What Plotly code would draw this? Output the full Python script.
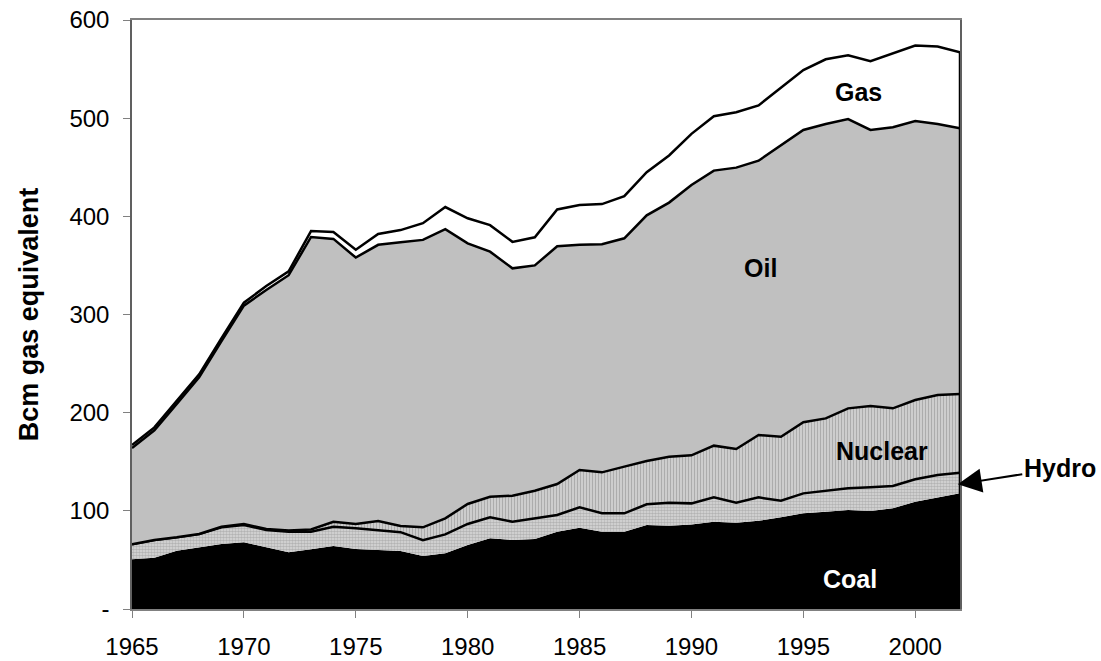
import numpy as np
import plotly.graph_objects as go

years = list(range(1965, 2003))

coal = [50.6, 52.3, 59.4, 62.5, 66.2, 67.9, 62.5, 57.7, 60.8, 64.2,
        61.1, 60.0, 59.2, 54.0, 56.7, 65.2, 72.0, 70.3, 71.3, 78.8,
        82.8, 78.8, 78.8, 85.6, 84.9, 86.0, 88.9, 87.9, 89.9, 93.4,
        97.5, 99.1, 100.8, 99.8, 102.6, 109.3, 113.8, 117.8]
hydro = [15.3, 18.0, 13.6, 13.9, 17.0, 17.7, 18.0, 21.1, 18.0, 19.6,
         21.1, 20.5, 19.1, 16.0, 19.3, 21.4, 21.4, 18.6, 21.1, 17.0,
         20.8, 18.7, 18.7, 21.0, 23.4, 21.6, 24.8, 20.4, 23.8, 16.9,
         20.3, 21.1, 22.1, 24.2, 22.7, 22.8, 22.7, 21.1]
nuclear = [0.0, 0.0, 0.0, 0.0, 0.5, 0.9, 1.0, 1.2, 2.2, 5.1,
           4.4, 9.1, 6.2, 13.2, 16.4, 20.4, 21.0, 26.5, 28.1, 31.5,
           38.0, 41.7, 47.5, 44.2, 46.8, 48.9, 52.7, 54.7, 63.5, 65.2,
           72.4, 74.0, 81.5, 82.8, 79.1, 80.8, 81.5, 80.1]
oil = [98.1, 111.7, 136.0, 159.6, 189.3, 222.5, 243.5, 260.0, 298.0, 288.1,
       271.4, 281.4, 289.0, 292.8, 294.6, 265.5, 249.6, 231.6, 229.5, 242.2,
       229.4, 232.3, 232.6, 250.2, 258.9, 275.5, 280.2, 286.6, 279.5, 297.1,
       297.8, 299.8, 294.6, 281.2, 286.3, 284.1, 276.0, 270.6]
gas = [3.0, 3.0, 3.0, 3.0, 3.0, 3.0, 4.0, 4.0, 6.0, 7.0,
       8.0, 11.0, 12.5, 17.0, 22.5, 25.5, 27.0, 27.0, 28.6, 37.5,
       40.5, 41.0, 42.9, 44.0, 48.0, 52.0, 55.4, 56.4, 56.3, 58.4,
       61.0, 66.0, 65.0, 70.0, 75.3, 77.0, 79.0, 77.4]

y_tickvals = [0, 100, 200, 300, 400, 500, 600]
y_ticktext = ["-", "100", "200", "300", "400", "500", "600"]
x_tickvals = [1965, 1970, 1975, 1980, 1985, 1990, 1995, 2000]

FONT = "Liberation Sans, Arial, sans-serif"

fig = go.Figure()

fig.add_trace(go.Scatter(x=years, y=coal, stackgroup="one", mode="lines",
                         line=dict(color="black", width=0),
                         fillcolor="black", name="Coal"))
fig.add_trace(go.Scatter(x=years, y=hydro, stackgroup="one", mode="lines",
                         line=dict(color="black", width=2.5),
                         fillcolor="#c8c8c8",
                         fillpattern=dict(shape=".", size=3, solidity=0.6,
                                          fgcolor="#8a8a8a", bgcolor="#dcdcdc"),
                         name="Hydro"))
fig.add_trace(go.Scatter(x=years, y=nuclear, stackgroup="one", mode="lines",
                         line=dict(color="black", width=2.5),
                         fillcolor="#c4c4c4",
                         fillpattern=dict(shape="|", size=3, solidity=0.35,
                                          fgcolor="#8c8c8c", bgcolor="#cdcdcd"),
                         name="Nuclear"))
fig.add_trace(go.Scatter(x=years, y=oil, stackgroup="one", mode="lines",
                         line=dict(color="black", width=2.5),
                         fillcolor="#c0c0c0", name="Oil"))
fig.add_trace(go.Scatter(x=years, y=gas, stackgroup="one", mode="lines",
                         line=dict(color="black", width=2.5),
                         fillcolor="white", name="Gas"))

total = np.sum([coal, hydro, nuclear, oil, gas], axis=0)
fig.add_trace(go.Scatter(x=[years[-1], years[-1]], y=[0, total[-1]],
                         mode="lines", line=dict(color="black", width=2.5),
                         hoverinfo="skip"))

lab = dict(family=FONT, size=25, color="black")
fig.add_annotation(x=1997.45, y=527, text="<b>Gas</b>", showarrow=False, font=lab)
fig.add_annotation(x=1993.1, y=347, text="<b>Oil</b>", showarrow=False, font=lab)
fig.add_annotation(x=1998.5, y=161, text="<b>Nuclear</b>", showarrow=False, font=lab)
fig.add_annotation(x=1997.1, y=31, text="<b>Coal</b>", showarrow=False,
                   font=dict(family=FONT, size=25, color="white"))
fig.add_annotation(x=2001.9, y=127, text="<b>Hydro</b>", showarrow=True,
                   ax=102, ay=-16, arrowhead=2, arrowsize=2.4, arrowwidth=2,
                   arrowcolor="black", font=lab, xanchor="center")

fig.update_layout(
    width=1101, height=661,
    margin=dict(l=132, r=141, t=20, b=52),
    paper_bgcolor="white", plot_bgcolor="white",
    showlegend=False,
    font=dict(family=FONT, size=24, color="black"),
)
fig.update_xaxes(range=[1965, 2002], tickvals=x_tickvals, automargin=False,
                 ticks="outside", ticklen=7, tickcolor="#808080",
                 showline=True, linecolor="#808080", linewidth=1.5, mirror=True,
                 showgrid=False, zeroline=False, ticklabelstandoff=8,
                 tickfont=dict(family=FONT, size=24, color="black"))
fig.update_yaxes(range=[0, 600], tickvals=y_tickvals, ticktext=y_ticktext,
                 automargin=False,
                 ticks="outside", ticklen=7, tickcolor="#808080",
                 showline=True, linecolor="#606060", linewidth=1.5, mirror=True,
                 showgrid=False, zeroline=False, ticklabelstandoff=9,
                 tickfont=dict(family=FONT, size=24, color="black"),
                 title=dict(text="<b>Bcm gas equivalent</b>",
                            font=dict(family=FONT, size=27, color="black"),
                            standoff=23))

fig.write_html("out.html", config={"displayModeBar": False},
               post_script="document.body.style.margin='0';document.body.style.overflow='hidden';")
